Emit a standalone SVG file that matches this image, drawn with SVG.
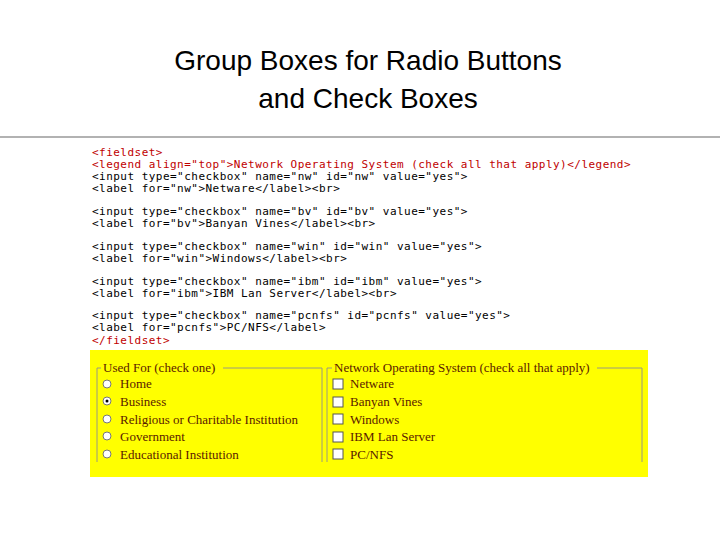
<svg xmlns="http://www.w3.org/2000/svg" width="720" height="540" viewBox="0 0 720 540">
<style>
.t{font-family:"Liberation Sans",Arial,sans-serif;font-size:28px;text-anchor:middle;fill:#000}
.c{font-family:"DejaVu Sans Mono",monospace;font-size:11px;letter-spacing:0.47px;fill:#000}
.r{fill:#c00000}
.f{font-family:"Liberation Serif",serif;font-size:13px;fill:#5a1a00}
.b{fill:none;stroke:#9a9a80;stroke-width:1}
.rad{fill:#fff;stroke:#777;stroke-width:1}
.chk{fill:#fff;stroke:#555;stroke-width:1}
</style>
<rect width="720" height="540" fill="#fff"/>
<g id="title">
<text class="t" x="368" y="70">Group Boxes for Radio Buttons</text>
<text class="t" x="368" y="108">and Check Boxes</text>
<line x1="0" y1="137" x2="720" y2="137" stroke="#999" stroke-width="1.5"/>
</g>
<g id="code" class="c">
<text x="92" y="156" class="c r">&lt;fieldset&gt;</text>
<text x="92" y="168" class="c r">&lt;legend align="top"&gt;Network Operating System (check all that apply)&lt;/legend&gt;</text>
<text x="92" y="180">&lt;input type="checkbox" name="nw" id="nw" value="yes"&gt;</text>
<text x="92" y="192">&lt;label for="nw"&gt;Netware&lt;/label&gt;&lt;br&gt;</text>
<text x="92" y="215">&lt;input type="checkbox" name="bv" id="bv" value="yes"&gt;</text>
<text x="92" y="227">&lt;label for="bv"&gt;Banyan Vines&lt;/label&gt;&lt;br&gt;</text>
<text x="92" y="250">&lt;input type="checkbox" name="win" id="win" value="yes"&gt;</text>
<text x="92" y="262">&lt;label for="win"&gt;Windows&lt;/label&gt;&lt;br&gt;</text>
<text x="92" y="285">&lt;input type="checkbox" name="ibm" id="ibm" value="yes"&gt;</text>
<text x="92" y="297">&lt;label for="ibm"&gt;IBM Lan Server&lt;/label&gt;&lt;br&gt;</text>
<text x="92" y="319">&lt;input type="checkbox" name="pcnfs" id="pcnfs" value="yes"&gt;</text>
<text x="92" y="331">&lt;label for="pcnfs"&gt;PC/NFS&lt;/label&gt;</text>
<text x="92" y="344" class="c r">&lt;/fieldset&gt;</text>
</g>
<g id="form">
<rect x="90" y="350" width="558" height="127" fill="#ffff00"/>
<g id="usedfor">
<path class="b" d="M97 462V368H101M223 368H322V462"/>
<text class="f" x="103" y="372">Used For (check one)</text>
<circle class="rad" cx="107" cy="384" r="4"/><text class="f" x="120" y="388">Home</text>
<circle class="rad" cx="107" cy="401" r="4"/><circle cx="107" cy="401" r="1.5" fill="#000"/><text class="f" x="120" y="406">Business</text>
<circle class="rad" cx="107" cy="419" r="4"/><text class="f" x="120" y="424">Religious or Charitable Institution</text>
<circle class="rad" cx="107" cy="436" r="4"/><text class="f" x="120" y="441">Government</text>
<circle class="rad" cx="107" cy="454" r="4"/><text class="f" x="120" y="459">Educational Institution</text>
</g>
<g id="nos">
<path class="b" d="M327 462V368H332M597 368H642V462"/>
<text class="f" x="334" y="372">Network Operating System (check all that apply)</text>
<rect class="chk" x="333" y="379" width="10" height="10"/><text class="f" x="350" y="388">Netware</text>
<rect class="chk" x="333" y="397" width="10" height="10"/><text class="f" x="350" y="406">Banyan Vines</text>
<rect class="chk" x="333" y="414" width="10" height="10"/><text class="f" x="350" y="424">Windows</text>
<rect class="chk" x="333" y="432" width="10" height="10"/><text class="f" x="350" y="441">IBM Lan Server</text>
<rect class="chk" x="333" y="449" width="10" height="10"/><text class="f" x="350" y="459">PC/NFS</text>
</g>
</g>
</svg>
